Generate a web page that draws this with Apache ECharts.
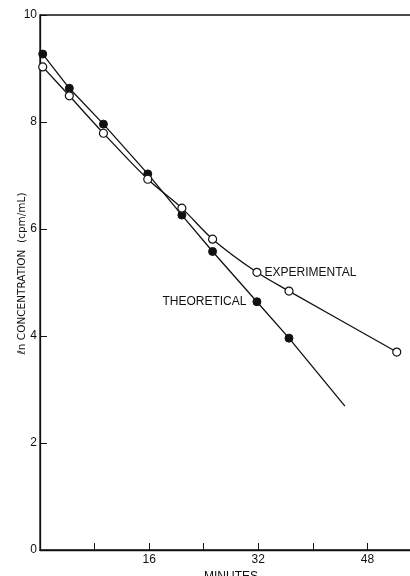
<!DOCTYPE html>
<html>
<head>
<meta charset="utf-8">
<style>
  html, body { margin: 0; padding: 0; background: #fff; }
  #chart { width: 410px; height: 576px; }
</style>
<script src="https://cdn.jsdelivr.net/npm/echarts@6/dist/echarts.min.js"></script>
</head>
<body>
<div id="chart"></div>
<script>
// Sampling times (minutes)
const minutes = [0.4, 4.3, 9.3, 15.8, 20.8, 25.3, 31.8, 36.5];
const experimentalMinutes = [0.4, 4.3, 9.3, 15.8, 20.8, 25.3, 31.8, 36.5, 52.3];
// ln concentration (cpm/mL)
const theoretical = [9.27, 8.63, 7.96, 7.03, 6.26, 5.58, 4.64, 3.96];
const experimental = [9.03, 8.49, 7.79, 6.93, 6.39, 5.81, 5.19, 4.84, 3.70];
// extrapolated end of the theoretical line
const theoreticalEnd = [44.7, 2.69];
const yTicks = [0, 2, 4, 6, 8, 10];
const xLabeled = [16, 32, 48];
const labelIndex = 6;

const font = 'Liberation Sans';
const ink = '#111';

const theoData = minutes.map((m, i) => {
  const d = { value: [m, theoretical[i]] };
  if (i === labelIndex) {
    d.label = { show: true, position: 'left', distance: 6, formatter: 'THEORETICAL',
      color: ink, fontFamily: font, fontSize: 12 };
  }
  return d;
});
theoData.push({ value: theoreticalEnd, symbol: 'none' });

const expData = experimentalMinutes.map((m, i) => {
  const d = { value: [m, experimental[i]] };
  if (i === labelIndex) {
    d.label = { show: true, position: 'right', distance: 3, formatter: 'EXPERIMENTAL',
      color: ink, fontFamily: font, fontSize: 12 };
  }
  return d;
});

const chart = echarts.init(document.getElementById('chart'), null, { renderer: 'canvas' });
chart.setOption({
  animation: false,
  backgroundColor: '#fff',
  grid: { left: 40, right: -12, top: 15, bottom: 26, outerBoundsMode: 'none',
    containLabel: false, show: true, borderColor: ink, borderWidth: 1.3 },
  xAxis: {
    type: 'value', min: 0, max: 56, interval: 8,
    name: 'MINUTES', nameLocation: 'middle', nameGap: 17,
    nameTextStyle: { color: ink, fontFamily: font, fontSize: 12 },
    axisLine: { show: true, lineStyle: { color: ink, width: 1.3 } },
    axisTick: { show: true, inside: true, length: 7, lineStyle: { color: ink, width: 1 } },
    axisLabel: { color: ink, fontFamily: font, fontSize: 12, margin: 4,
      formatter: v => (xLabeled.indexOf(v) >= 0 ? String(v) : '') },
    splitLine: { show: false }
  },
  yAxis: {
    type: 'value', min: yTicks[0], max: yTicks[yTicks.length - 1], interval: 2,
    name: 'ℓn CONCENTRATION  (cpm/mL)', nameLocation: 'middle', nameGap: 12, nameRotate: 90,
    nameMoveOverlap: false,
    nameTextStyle: { color: ink, fontFamily: 'DejaVu Sans', fontSize: 10.5, padding: [0, 0, 0, 18] },
    axisLine: { show: true, lineStyle: { color: ink, width: 1.3 } },
    axisTick: { show: true, inside: true, length: 7, lineStyle: { color: ink, width: 1 } },
    axisLabel: { color: ink, fontFamily: font, fontSize: 12, margin: 3 },
    splitLine: { show: false }
  },
  series: [
    {
      name: 'THEORETICAL', type: 'line', data: theoData,
      symbol: 'circle', symbolSize: 8,
      itemStyle: { color: ink, borderColor: ink, borderWidth: 1 },
      lineStyle: { color: ink, width: 1.3 },
      z: 2
    },
    {
      name: 'EXPERIMENTAL', type: 'line', data: expData, smooth: 0.3,
      symbol: 'circle', symbolSize: 8,
      itemStyle: { color: '#fff', borderColor: ink, borderWidth: 1.2 },
      lineStyle: { color: ink, width: 1.3 },
      z: 3
    }
  ]
});
</script>
</body>
</html>
